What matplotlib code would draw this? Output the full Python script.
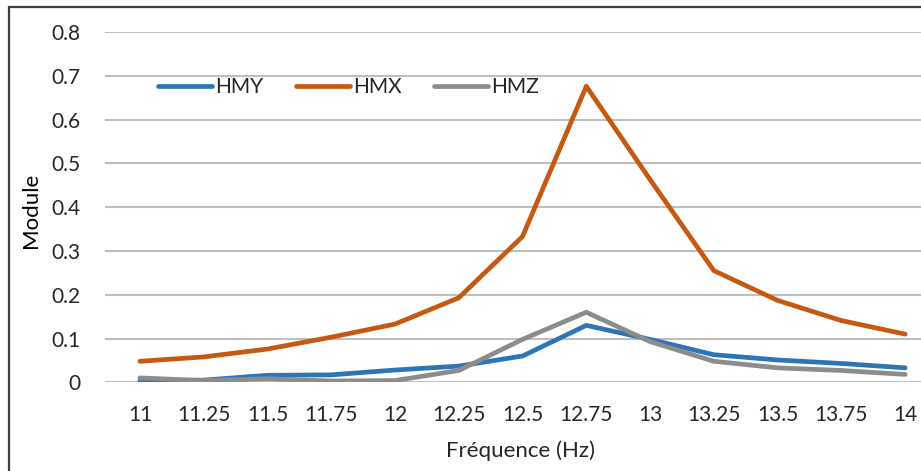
import matplotlib
matplotlib.use("Agg")
import matplotlib.pyplot as plt
from matplotlib.patches import Rectangle

# Frequency sweep (Hz) and response modulus for each direction
frequencies = [11, 11.25, 11.5, 11.75, 12, 12.25, 12.5, 12.75, 13, 13.25, 13.5, 13.75, 14]
tick_labels = ["11", "11.25", "11.5", "11.75", "12", "12.25", "12.5", "12.75",
               "13", "13.25", "13.5", "13.75", "14"]
hmy = [0.003, 0.005, 0.016, 0.017, 0.028, 0.037, 0.060, 0.130, 0.098, 0.063, 0.051, 0.043, 0.033]
hmx = [0.048, 0.058, 0.076, 0.103, 0.133, 0.193, 0.333, 0.676, 0.463, 0.255, 0.187, 0.141, 0.110]
hmz = [0.010, 0.004, 0.008, 0.003, 0.004, 0.027, 0.098, 0.160, 0.093, 0.048, 0.033, 0.027, 0.018]
y_ticks = [0, 0.1, 0.2, 0.3, 0.4, 0.5, 0.6, 0.7, 0.8]
y_tick_labels = ["0", "0.1", "0.2", "0.3", "0.4", "0.5", "0.6", "0.7", "0.8"]

plt.rcParams["font.family"] = ["Lato", "DejaVu Sans"]

W, H = 921, 471
fig = plt.figure(figsize=(W / 100, H / 100), dpi=100)

# chart frame
fig.patches.append(Rectangle((9 / W, -0.1), 1.2, (H - 7) / H + 0.1,
                             transform=fig.transFigure, fill=False,
                             edgecolor="#3f3f3f", linewidth=1.6))

ax = fig.add_axes([105 / W, (H - 382.3) / H, (937 - 105) / W, (382.3 - 32) / H])
ax.set_xlim(10.863, 14.125)
ax.set_ylim(0, 0.8)

ax.grid(axis="y", color="#bfbfbf", linewidth=1.5)
ax.set_axisbelow(True)
for s in ax.spines.values():
    s.set_visible(False)

lw = 3.4
ax.plot(frequencies, hmy, color="#2e75b6", linewidth=lw, solid_capstyle="round",
        solid_joinstyle="round", label="HMY", zorder=3)
ax.plot(frequencies, hmx, color="#c65911", linewidth=lw, solid_capstyle="round",
        solid_joinstyle="round", label="HMX", zorder=3)
ax.plot(frequencies, hmz, color="#8c8c8c", linewidth=lw, solid_capstyle="round",
        solid_joinstyle="round", label="HMZ", zorder=4)

ax.set_xticks(frequencies)
ax.set_xticklabels(tick_labels)
ax.set_yticks(y_ticks)
ax.set_yticklabels(y_tick_labels)
ax.tick_params(axis="both", length=0, labelsize=15, colors="#262626")
ax.tick_params(axis="x", pad=16)
ax.tick_params(axis="y", pad=18)

ax.set_xlabel("Fréquence (Hz)", fontsize=16, color="#262626")
ax.set_ylabel("Module", fontsize=16, color="#000000")
ax.xaxis.set_label_coords((520 - 105) / (937 - 105), -(440 - 382.3) / (382.3 - 32))
ax.yaxis.set_label_coords(-(105 - 41) / (937 - 105), (382.3 - 210) / (382.3 - 32))

leg = ax.legend(loc="upper left", bbox_to_anchor=((158 - 105) / (937 - 105), 1 - (77 - 32) / (382.3 - 32)),
                ncol=3, frameon=False, fontsize=15, handlelength=2.6, handletextpad=0.15,
                columnspacing=1.55, borderaxespad=0, borderpad=0)
for t in leg.get_texts():
    t.set_color("#262626")

fig.savefig("out.png", dpi=100)
